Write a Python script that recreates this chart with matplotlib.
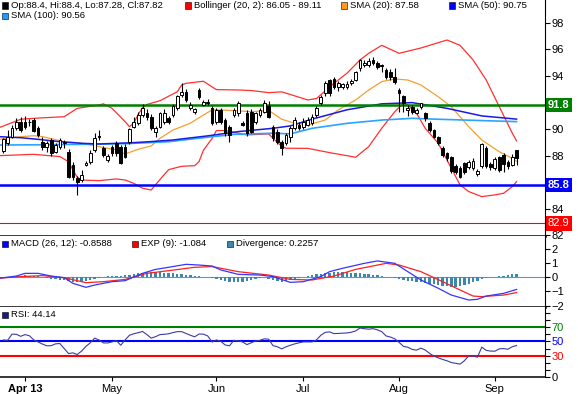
import matplotlib
matplotlib.use("Agg")
import matplotlib.pyplot as plt
from matplotlib.patches import Rectangle

plt.rcParams['font.family'] = ['Liberation Sans', 'DejaVu Sans']

# daily candles (one per trading day, index 0..118)
opens = [88.35, 88.93, 89.43, 90.06, 90.56, 90.56, 90.5, 90.68, 90.06, 89.06,
         88.68, 89.18, 88.3, 88.68, 88.93, 88.3, 87.3, 86.3, 86.17, 87.3,
         87.55, 88.43, 89.5, 88.55, 87.68, 88.68, 88.98, 88.68, 88.68, 89.06,
         90.18, 90.43, 91.06, 91.19, 90.94, 89.81, 90.19, 90.56, 90.81, 91.06,
         91.57, 92.57, 92.82, 91.57, 91.32, 92.94, 91.82, 91.94, 91.57, 90.56,
         91.44, 90.69, 90.19, 91.06, 91.19, 90.44, 91.19, 91.32, 90.56, 91.06,
         91.32, 91.74, 90.19, 89.81, 89.06, 88.93, 89.43, 90.06, 90.31, 90.18,
         90.31, 90.48, 91.06, 91.94, 92.69, 93.69, 93.74, 93.19, 93.19, 93.19,
         93.44, 93.69, 94.57, 94.82, 94.82, 95.2, 95.0, 94.82, 94.44, 94.32,
         93.94, 92.94, 92.49, 91.44, 91.69, 91.24, 91.69, 91.19, 90.43, 89.93,
         89.38, 88.55, 88.18, 87.88, 87.23, 87.05, 87.43, 87.13, 87.05, 86.6,
         87.23, 88.55, 87.38, 87.05, 87.88, 88.05, 87.55, 87.3, 88.4]
highs = [89.35, 89.9, 90.3, 90.8, 90.9, 91.0, 90.75, 90.8, 90.2, 89.4,
         89.1, 89.3, 88.95, 89.3, 89.2, 88.5, 87.5, 86.5, 86.9, 87.6,
         88.4, 89.7, 89.93, 88.7, 88.1, 88.8, 89.1, 88.8, 88.9, 90.1,
         90.9, 91.3, 91.9, 91.5, 91.1, 90.2, 91.3, 91.5, 91.0, 91.9,
         92.6, 93.45, 93.0, 92.0, 91.6, 93.1, 92.2, 92.3, 91.7, 91.6,
         91.6, 90.8, 90.3, 91.6, 92.1, 90.6, 91.4, 91.5, 91.3, 91.6,
         92.2, 92.1, 90.3, 90.0, 89.2, 89.7, 90.2, 90.9, 90.5, 90.8,
         90.9, 91.1, 91.7, 92.6, 93.6, 93.8, 93.9, 93.6, 93.5, 93.6,
         93.8, 94.4, 95.3, 95.2, 95.35, 95.4, 95.1, 94.9, 94.6, 94.5,
         94.57, 93.07, 92.6, 91.8, 91.8, 91.6, 91.95, 91.3, 90.6, 90.0,
         89.5, 88.7, 88.3, 88.0, 87.4, 87.2, 87.5, 87.7, 87.8, 87.0,
         88.95, 88.7, 87.5, 87.9, 88.0, 88.2, 87.7, 88.1, 88.4]
lows = [88.2, 88.8, 89.3, 89.9, 89.8, 90.0, 90.2, 89.8, 89.4, 88.4,
        88.3, 88.0, 88.2, 88.5, 88.6, 86.3, 86.2, 85.05, 86.0, 87.2,
        87.4, 88.3, 89.2, 87.9, 87.5, 88.0, 88.0, 87.4, 87.8, 88.9,
        90.1, 90.3, 90.9, 90.7, 89.9, 89.4, 90.1, 90.4, 90.4, 90.9,
        91.4, 92.4, 92.0, 91.4, 91.1, 92.3, 91.7, 91.8, 90.3, 90.4,
        90.4, 89.5, 89.06, 90.9, 91.0, 90.2, 89.5, 89.7, 90.4, 90.9,
        91.2, 90.8, 89.1, 88.9, 88.06, 88.8, 89.0, 89.9, 89.9, 90.0,
        90.2, 90.3, 90.9, 91.8, 92.5, 92.5, 93.0, 92.9, 93.0, 93.0,
        93.3, 93.6, 94.4, 94.7, 94.7, 94.8, 94.5, 94.3, 93.8, 93.7,
        93.4, 91.3, 91.3, 91.0, 91.1, 91.1, 91.5, 90.6, 89.8, 89.3,
        88.8, 87.9, 87.6, 86.7, 86.6, 86.3, 86.6, 87.0, 86.9, 86.5,
        87.1, 87.1, 86.9, 86.9, 86.8, 86.8, 87.0, 87.2, 87.28]
closes = [89.23, 89.43, 90.06, 90.56, 89.93, 90.18, 90.56, 89.88, 89.56, 88.68,
          88.98, 88.18, 88.8, 89.18, 89.06, 86.42, 86.42, 86.05, 86.55, 87.48,
          88.18, 89.3, 89.4, 88.05, 87.98, 88.18, 88.18, 87.48, 87.93, 89.98,
          90.56, 91.06, 91.56, 90.94, 90.06, 90.06, 91.19, 91.24, 90.56, 91.74,
          92.5, 92.82, 92.19, 91.82, 91.49, 92.44, 92.07, 92.07, 90.44, 91.44,
          90.56, 89.69, 89.56, 91.44, 91.94, 90.31, 89.69, 89.81, 91.19, 91.44,
          91.99, 90.94, 89.31, 89.06, 88.56, 89.56, 90.06, 90.68, 90.06, 90.56,
          90.68, 90.89, 91.56, 92.44, 93.44, 92.69, 93.19, 93.44, 93.37, 93.37,
          93.64, 94.32, 95.2, 95.0, 95.15, 94.94, 94.69, 94.72, 93.94, 93.94,
          93.57, 92.69, 91.94, 91.56, 91.31, 91.44, 91.94, 90.81, 89.93, 89.43,
          88.93, 88.05, 87.8, 86.88, 86.8, 86.42, 86.8, 87.55, 87.6, 86.85,
          88.88, 87.23, 87.13, 87.73, 86.93, 87.38, 87.23, 87.93, 87.82]

# indicator lines (x = candle index)
bb_upper_x = [-1, 4, 8, 14, 17, 22, 23, 25, 28, 29, 30, 31, 32, 33, 36, 40, 41, 42, 46, 48,
              49, 54, 57, 61, 64, 66, 70, 72, 76, 79, 82, 84, 87, 91, 96, 102, 105, 108, 111, 114,
              117, 118]
bb_upper = [90.1, 90.74, 90.83, 90.93, 91.56, 91.81, 91.9, 91.56, 90.56, 90.18,
            90.45, 91.1, 91.6, 91.85, 92.13, 92.81, 93.32, 93.44, 93.6, 93.17,
            92.97, 92.94, 92.9, 92.74, 92.8, 92.6, 92.19, 92.3, 93.44, 94.2,
            95.2, 95.7, 96.3, 95.7, 96.1, 96.7, 96.3, 95.2, 93.7, 91.7,
            89.7, 89.11]
bb_lower_x = [-1, 3, 7, 13, 15, 16, 17, 18, 22, 26, 28, 30, 32, 34, 36, 38, 41, 44, 45, 46,
              48, 49, 51, 54, 56, 61, 62, 64, 65, 70, 75, 81, 84, 87, 90, 92, 93, 95, 97, 100,
              102, 104, 105, 107, 110, 113, 115, 117, 118]
bb_lower = [88.0, 88.05, 88.1, 87.93, 87.55, 86.92, 86.38, 86.17, 86.12, 86.25,
            86.17, 85.92, 85.55, 85.42, 86.2, 86.95, 87.2, 87.25, 87.56, 88.4,
            89.3, 89.89, 89.89, 89.69, 89.56, 89.64, 89.31, 88.7, 88.56, 88.55,
            88.23, 87.88, 88.68, 90.06, 91.31, 91.94, 91.81, 91.19, 90.06, 88.93,
            87.68, 86.42, 85.8, 85.3, 84.92, 85.05, 85.17, 85.67, 86.05]
sma20_x = [-1, 4, 7, 9, 14, 17, 19, 22, 26, 28, 31, 34, 36, 39, 43, 46, 48, 50, 53, 57,
           61, 62, 64, 67, 70, 74, 77, 81, 84, 87, 90, 93, 96, 100, 103, 107, 110, 114, 117, 118]
sma20 = [89.23, 89.43, 89.5, 89.43, 89.05, 88.98, 88.88, 88.68, 88.43, 88.13,
         88.48, 88.73, 89.3, 89.93, 90.44, 91.06, 91.44, 91.44, 91.39, 91.31,
         91.39, 91.19, 90.74, 90.44, 90.31, 90.68, 91.44, 92.19, 92.94, 93.57,
         93.77, 93.69, 93.32, 92.43, 91.68, 90.18, 89.18, 88.3, 87.8, 87.58]
sma50_x = [-1, 4, 8, 13, 18, 22, 26, 30, 34, 39, 47, 54, 62, 66, 71, 79, 87, 94, 102, 110, 118]
sma50 = [89.43, 89.35, 89.23, 89.05, 88.93, 88.88, 88.93, 88.98, 89.06, 89.18,
         89.49, 89.81, 90.06, 90.24, 90.75, 91.45, 91.9, 91.99, 91.56, 90.99, 90.75]
sma100_x = [-1, 8, 18, 28, 38, 47, 53, 62, 66, 71, 79, 87, 94, 98, 106, 118]
sma100 = [88.8, 88.82, 88.85, 88.9, 89.05, 89.39, 89.6, 89.69, 89.64, 90.06,
          90.43, 90.68, 90.81, 90.76, 90.68, 90.56]

macd_x = [-1, 3, 5, 8, 11, 14, 16, 19, 21, 25, 28, 32, 35, 38, 42, 45, 48, 50, 54, 59,
          62, 66, 69, 73, 75, 78, 83, 86, 90, 93, 96, 100, 103, 107, 109, 111, 115, 118]
macd = [-0.07, 0.09, 0.28, 0.28, 0.09, -0.03, -0.43, -0.71, -0.55, -0.31,
        -0.24, 0.28, 0.56, 0.71, 0.92, 0.87, 0.80, 0.52, 0.21, 0.16,
        0.05, -0.36, -0.31, 0.05, 0.40, 0.64, 0.99, 1.16, 0.99, 0.40,
        -0.19, -0.78, -1.26, -1.61, -1.56, -1.33, -1.14, -0.8588]
exp_x = [-1, 4, 9, 14, 19, 23, 28, 33, 38, 44, 48, 54, 61, 66, 71, 76, 81, 88, 91, 96,
         101, 105, 108, 110, 115, 118]
exp9 = [-0.07, 0.05, 0.12, -0.03, -0.38, -0.31, -0.15, 0.28, 0.47, 0.71,
        0.76, 0.40, 0.16, -0.15, -0.19, 0.09, 0.56, 0.99, 0.87, 0.40,
        -0.31, -0.90, -1.33, -1.37, -1.26, -1.084]
divergence = [0.0, 0.03, 0.06, 0.1, 0.12, 0.13, 0.12, 0.1, 0.07,
              0.0, -0.06, -0.1, -0.14, -0.17, -0.19,
              -0.25, -0.3, -0.32, -0.32, -0.28, -0.2,
              -0.1, -0.02, 0.03,
              0.06, 0.08, 0.1, 0.12, 0.14, 0.18, 0.23, 0.28,
              0.32, 0.35, 0.37, 0.37, 0.35, 0.32, 0.3, 0.27, 0.24,
              0.21, 0.18, 0.14, 0.1, 0.06,
              0.03, 0.0, -0.04,
              -0.1, -0.18, -0.25, -0.3, -0.33, -0.33, -0.3, -0.25, -0.18, -0.1,
              -0.03, 0.02,
              -0.1, -0.18, -0.25, -0.3, -0.28, -0.2,
              -0.12, -0.04, 0.03, 0.08,
              0.15, 0.2, 0.26, 0.3, 0.34, 0.37, 0.38, 0.37, 0.35, 0.33, 0.3, 0.28,
              0.26, 0.23, 0.19, 0.14, 0.09, 0.04,
              0.0, -0.05, -0.12, -0.18, -0.24, -0.28, -0.32, -0.36, -0.4, -0.45, -0.5, -0.55,
              -0.6, -0.64, -0.66, -0.66, -0.62, -0.55, -0.45, -0.35, -0.25, -0.15, -0.05, 0.0,
              0.04, 0.08, 0.12, 0.16, 0.2, 0.2257]
rsi = [52, 51.5, 60, 59.8, 57, 59.4, 57.8, 52, 49.2, 46.2,
       43.8, 44, 46.5, 47, 40, 33, 34, 31.7, 36.5, 43,
       48, 54.5, 52, 47.8, 47.8, 49.2, 51, 44.6, 52, 58.5,
       60.5, 62, 63.8, 59.5, 54.5, 56.5, 59.4, 59.8, 60.5, 62.2,
       63.5, 63.5, 61, 58.5, 56.3, 60.2, 60, 57.5, 49, 52,
       50, 45, 43.8, 51.5, 50.5, 49.2, 45.5, 48, 50.5, 51.5,
       53.5, 53, 44, 42.5, 39.5, 42.5, 44.6, 46.5, 48, 49.2,
       49.2, 49.2, 52, 58.5, 62.5, 63.2, 60.8, 61, 61.4, 61.7,
       62.7, 64.5, 68.6, 67.6, 66.9, 67.7, 66, 63.5, 57.5, 56,
       53.5, 48.5, 43, 41.8, 38.8, 37.8, 40.5, 38, 33.2, 29.5,
       27, 24.8, 23, 20.5, 19.5, 18.3, 23, 30, 29.5, 28,
       42, 37.5, 36.5, 36.3, 39.5, 40, 39, 42.5, 44.14]

month_pos = [5, 25, 49, 69, 91, 113]
month_labels = ["Apr 13", "May", "Jun", "Jul", "Aug", "Sep"]

resistance = 91.8
support = 85.8
low_mark = 82.9

W, H = 578, 394
fig = plt.figure(figsize=(W / 100, H / 100), dpi=100)


def panel(top, bottom):
    return fig.add_axes([0, 1 - bottom / H, 545.3 / W, (bottom - top) / H])


ax = panel(0, 235.7)
ax_m = panel(235.7, 306.7)
ax_r = panel(306.7, 377.3)

for a in (ax, ax_m, ax_r):
    a.set_xlim(-0.76, 124.6)
    a.yaxis.tick_right()
    a.tick_params(axis='y', direction='out', length=3.5, width=0.8, labelsize=8, pad=1)
    a.spines['left'].set_visible(False)
    a.spines['top'].set_visible(False)
    a.spines['right'].set_linewidth(0.8)
    a.spines['bottom'].set_linewidth(1.8)
ax_r.spines['bottom'].set_linewidth(1.1)
ax.tick_params(axis='x', bottom=False, labelbottom=False)
ax_m.tick_params(axis='x', bottom=False, labelbottom=False)

# --- price panel ---
ax.set_ylim(81.98, 99.71)
ax.plot(bb_upper_x, bb_upper, color='#ff3030', lw=0.9, zorder=2)
ax.plot(bb_lower_x, bb_lower, color='#ff3030', lw=0.9, zorder=2)
ax.plot(sma20_x, sma20, color='#f2a031', lw=0.9, zorder=2)
ax.plot(sma100_x, sma100, color='#2aa4ff', lw=1.2, zorder=2)
ax.plot(sma50_x, sma50, color='#1a1ae6', lw=1.1, zorder=2)
ax.axhline(resistance, color='#008000', lw=1.8, zorder=3)
ax.axhline(support, color='#0000ff', lw=1.8, zorder=3)
ax.axhline(low_mark, color='#ff0000', lw=0.8, zorder=3)

xs = list(range(len(closes)))
ax.vlines(xs, lows, highs, color='black', lw=0.8, zorder=4)
ax.bar(xs, [max(abs(c - o), 0.04) for o, c in zip(opens, closes)],
       bottom=[min(o, c) for o, c in zip(opens, closes)], width=0.62,
       color=['white' if c >= o else 'black' for o, c in zip(opens, closes)],
       edgecolor='black', linewidth=0.7, zorder=5)

ax.set_yticks(range(82, 99, 2))
ax.set_yticklabels(['' if v in (86, 92) else str(v) for v in range(82, 99, 2)])


def value_box(a, y, text, color, bold=True):
    a.text(1.0045, y, text, transform=a.get_yaxis_transform(), ha='left', va='center',
           color='white', fontsize=8, fontweight='bold' if bold else 'normal',
           bbox=dict(boxstyle='square,pad=0.2', fc=color, ec='none'), clip_on=False, zorder=10)


value_box(ax, resistance, f"{resistance}", '#008000')
value_box(ax, support, f"{support}", '#0000ff')
value_box(ax, low_mark, f"{low_mark}", '#ff0000', bold=False)

# --- MACD panel ---
ax_m.set_ylim(-2.085, 2.95)
ax_m.axhline(0, color='#5a9cbc', lw=0.8, zorder=1)
ax_m.bar(xs, divergence, width=0.55, color='#3d88aa', zorder=2)
ax_m.plot(exp_x, exp9, color='#ff2020', lw=0.9, zorder=3)
ax_m.plot(macd_x, macd, color='#3535ff', lw=0.9, zorder=3)
ax_m.set_yticks([-2, -1, 0, 1, 2])

# --- RSI panel ---
ax_r.set_ylim(0, 98.2)
ax_r.axhline(70, color='#008000', lw=1.5, zorder=1)
ax_r.axhline(50, color='#0000ff', lw=1.5, zorder=1)
ax_r.axhline(30, color='#ff0000', lw=1.5, zorder=1)
ax_r.plot(xs, rsi, color='#3b3ba8', lw=0.8, zorder=3)
rsi_ticks = list(range(0, 100, 10))
ax_r.set_yticks(rsi_ticks)
ax_r.set_yticklabels([str(v) if v in (0, 30, 50, 70) else '' for v in rsi_ticks])
for lab, v in zip(ax_r.get_yticklabels(), rsi_ticks):
    lab.set_color({70: '#008000', 50: '#0000ff', 30: '#ff0000'}.get(v, 'black'))
ax_r.set_xticks(month_pos)
ax_r.set_xticklabels(month_labels)
ax_r.tick_params(axis='x', direction='out', length=3, width=0.8, labelsize=8, pad=2)
ax_r.get_xticklabels()[0].set_fontweight('bold')


# --- legends ---
def legend_item(x_px, y_px, color, text):
    fig.add_artist(Rectangle((x_px / W, 1 - (y_px + 3) / H), 6 / W, 6 / H,
                             transform=fig.transFigure, facecolor=color,
                             edgecolor='black', linewidth=0.4))
    fig.text((x_px + 9) / W, 1 - y_px / H, text, fontsize=6.8, va='center', ha='left')


legend_item(2, 5.5, 'black', f"Op:{opens[-1]}, Hi:{highs[-1]}, Lo:{lows[-1]}, Cl:{closes[-1]}")
legend_item(185, 5.5, '#ff0000', f"Bollinger (20, 2): {bb_lower[-1]:.2f} - {bb_upper[-1]:.2f}")
legend_item(341, 5.5, '#ff9a1a', f"SMA (20): {sma20[-1]:.2f}")
legend_item(449, 5.5, '#0000ff', f"SMA (50): {sma50[-1]:.2f}")
legend_item(2, 16, '#1e9bff', f"SMA (100): {sma100[-1]:.2f}")
legend_item(2, 244, '#0000ff', f"MACD (26, 12): {macd[-1]}")
legend_item(132, 244, '#ff0000', f"EXP (9): {exp9[-1]}")
legend_item(227, 244, '#3d88aa', f"Divergence: {divergence[-1]}")
legend_item(2, 314.5, '#1a1a80', f"RSI: {rsi[-1]}")

fig.savefig('out.png', dpi=100)
